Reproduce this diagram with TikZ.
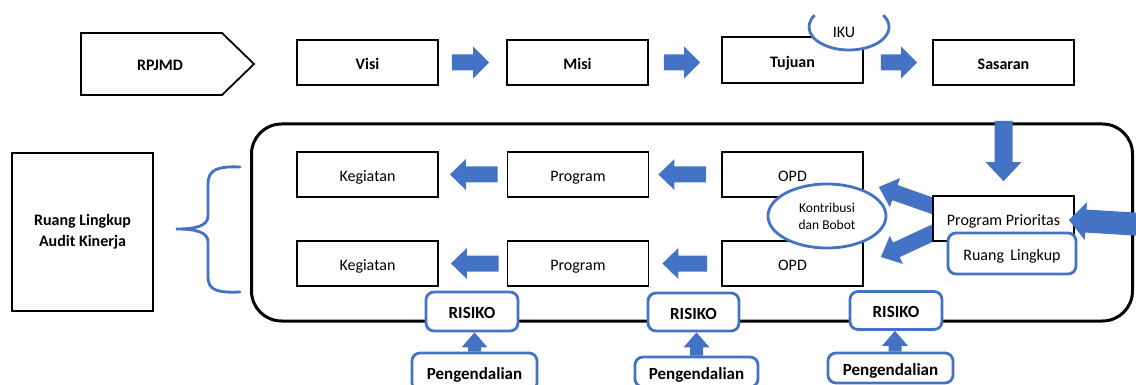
\documentclass[tikz,border=0pt]{standalone}
\usepackage{fontspec}
\setmainfont{Carlito}
\usetikzlibrary{calc,shapes.geometric}
\definecolor{obl}{HTML}{4472C4}
% block arrow: #1 tail, #2 tip, #3 shaft half width, #4 head half width, #5 head length
\newcommand{\blockarrow}[5]{%
  \path ($(#2)!#5!(#1)$) coordinate (bah);
  \fill[obl] ($(#1)!#3!90:(#2)$) -- ($(bah)!#3!-90:(#1)$) -- ($(bah)!#4!-90:(#1)$) -- (#2)
    -- ($(bah)!#4!90:(#1)$) -- ($(bah)!#3!90:(#1)$) -- ($(#1)!#3!-90:(#2)$) -- cycle;
}
\begin{document}
\begin{tikzpicture}[x=1pt,y=-1pt,
  font=\fontsize{16}{19}\selectfont,
  tc/.style={text height=14.4pt, text depth=0pt},
  box/.style={draw, line width=1.8pt, fill=white, minimum width=141pt, minimum height=45pt, inner sep=0pt, tc},
  bbox/.style={draw=obl, line width=2.8pt, fill=white, rounded corners=8pt, inner sep=0pt},
  bluel/.style={draw=obl, line width=2.8pt},
  bf/.style={font=\fontsize{16}{19}\selectfont\bfseries},
  bf17/.style={font=\fontsize{17}{20}\selectfont\bfseries, tc}
]
\useasboundingbox (0,0) rectangle (1136,385);

% big rounded frame
\node[draw, line width=3pt, rounded corners=30pt, minimum width=881pt, minimum height=197pt, inner sep=0pt] (frame) at (692,222.5) {};

% top row
\draw[line width=1.8pt] (81,33) -- (222,33) -- (254,64) -- (222,95) -- (81,95) -- cycle;
\node[bf, tc] (rpjmd) at (160,63) {RPJMD};
\node[box, bf] (visi) at (367.5,62.5) {Visi};
\node[box, bf] (misi) at (577.5,62.5) {Misi};
\node[box, bf, minimum height=46pt] (tujuan) at (792.5,60) {Tujuan};
\node[box, bf] (sasaran) at (1003.5,62.5) {Sasaran};

\coordinate (t1a) at ($(visi.east)+(13,0)$);
\coordinate (t1b) at ($(misi.west)+(-17,0)$);
\coordinate (t2a) at ($(misi.east)+(15,0)$);
\coordinate (t2b) at ($(tujuan.west |- misi.west)+(-21,0)$);
\coordinate (t3a) at ($(tujuan.east |- misi.west)+(17,0)$);
\coordinate (t3b) at ($(sasaran.west)+(-15,0)$);
\blockarrow{t1a}{t1b}{8pt}{16pt}{16pt}
\blockarrow{t2a}{t2b}{8pt}{16pt}{16pt}
\blockarrow{t3a}{t3b}{8pt}{16pt}{16pt}

% IKU (open at the top)
\node[ellipse, fill=white, minimum width=80pt, minimum height=46pt, inner sep=0pt] (iku) at (849,27) {};
\node (ikut) at (844,32) {IKU};
\draw[bluel] ($(iku.center)+(149:40pt and 23pt)$) arc[start angle=149, end angle=391, x radius=40pt, y radius=23pt];

% inner rows
\node[box] (keg1) at (367.5,174.5) {Kegiatan};
\node[box] (prog1) at (578,174.5) {Program};
\node[box] (opd1) at (792.5,174.5) {OPD};
\node[box] (keg2) at (367.5,263.5) {Kegiatan};
\node[box] (prog2) at (578,263.5) {Program};
\node[box] (opd2) at (792.5,263.5) {OPD};

\coordinate (l1a) at ($(prog1.west)+(-9,0)$);
\coordinate (l1b) at ($(keg1.east)+(11,0)$);
\coordinate (l2a) at ($(opd1.west)+(-15,0)$);
\coordinate (l2b) at ($(prog1.east)+(9,0)$);
\coordinate (l3a) at ($(prog2.west)+(-8,0)$);
\coordinate (l3b) at ($(keg2.east)+(12,0)$);
\coordinate (l4a) at ($(opd2.west)+(-14,0)$);
\coordinate (l4b) at ($(prog2.east)+(13,0)$);
\blockarrow{l1a}{l1b}{8pt}{15.5pt}{16pt}
\blockarrow{l2a}{l2b}{8pt}{15.5pt}{16pt}
\blockarrow{l3a}{l3b}{8pt}{15.5pt}{16pt}
\blockarrow{l4a}{l4b}{8pt}{15.5pt}{16pt}

% diagonal arrows from Program Prioritas (drawn under the box)
\coordinate (ppc) at (1003.5,218.5);
\coordinate (d1a) at (950,212);
\coordinate (d1b) at ($(opd1.east)+(15,12.5)$);
\coordinate (d2a) at (950,225);
\coordinate (d2b) at ($(opd2.east)+(17,-6.5)$);
\blockarrow{d1a}{d1b}{8pt}{15.5pt}{17pt}
\blockarrow{d2a}{d2b}{8pt}{15.5pt}{17pt}

\node[box] (pp) at (ppc) {Program Prioritas};
\node[bbox, tc, minimum width=128pt, minimum height=41pt] (rl) at (1012,253.5) {Ruang\ \,Lingkup};

% Kontribusi ellipse
\node[ellipse, bluel, fill=white, minimum width=118pt, minimum height=64pt, inner sep=0pt,
      align=center, font=\fontsize{13.5}{17}\selectfont] (kb) at (827,216) {Kontribusi\\dan Bobot};

% down arrow and right arrow
\coordinate (da) at ($(sasaran.south)+(0,35)$);
\coordinate (db) at ($(pp.north)+(0,-14)$);
\blockarrow{da}{db}{9pt}{18pt}{19pt}
\coordinate (ra) at (1142,224.5);
\coordinate (rb) at ($(pp.east)+(-6,1.5)$);
\blockarrow{ra}{rb}{11.5pt}{19pt}{17pt}

% left box and brace
\node[draw, line width=1.8pt, minimum width=141pt, minimum height=158pt, inner sep=0pt,
      align=center, font=\fontsize{16}{21}\selectfont\bfseries] (ruang) at (82.5,232) {Ruang Lingkup\\Audit Kinerja};
\draw[bluel, line cap=round] (240,167) .. controls (217,166) and (208,170) .. (208,184) -- (208,216)
  .. controls (208,226) and (196,229) .. (176,229)
  .. controls (196,229) and (208,232) .. (208,242) -- (208,277)
  .. controls (208,290) and (217,293) .. (240,292);

% risiko and pengendalian
\node[bbox, bf17, minimum width=92pt, minimum height=39pt] (r1) at (472,311.5) {RISIKO};
\node[bbox, bf17, minimum width=91pt, minimum height=38pt] (r2) at (693.5,312) {RISIKO};
\node[bbox, bf17, minimum width=92pt, minimum height=38pt] (r3) at (896,310.5) {RISIKO};
\node[bbox, bf17, minimum width=125pt, minimum height=38pt] (p1) at (474.5,372) {Pengendalian};
\node[bbox, bf17, minimum width=123pt, minimum height=30pt] (p2) at (696.5,372) {Pengendalian};
\node[bbox, bf17, minimum width=125pt, minimum height=30pt] (p3) at (890.5,368) {Pengendalian};

\coordinate (u1b) at (r1.south -| p1.north);
\coordinate (u2b) at (r2.south -| p2.north);
\coordinate (u3b) at (r3.south -| 895,0);
\coordinate (u3a) at (p3.north -| 895,0);
\blockarrow{p1.north}{u1b}{6.5pt}{13pt}{15pt}
\blockarrow{p2.north}{u2b}{6.5pt}{13pt}{15pt}
\blockarrow{u3a}{u3b}{6.5pt}{13pt}{15pt}
\end{tikzpicture}
\end{document}
